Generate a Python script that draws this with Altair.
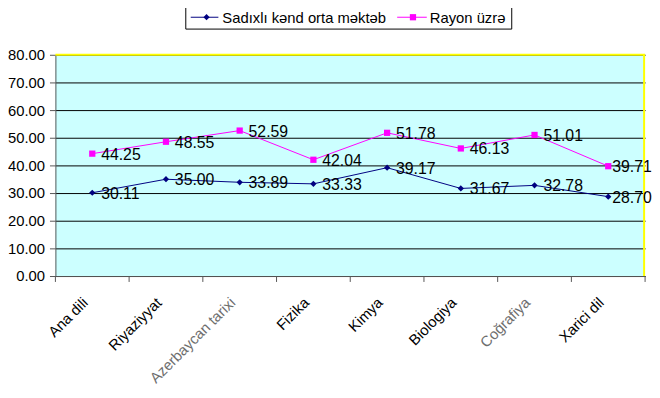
import altair as alt
import pandas as pd

categories = ["Ana dili", "Riyaziyyat", "Azerbaycan tarixi", "Fizika", "Kimya",
              "Biologiya", "Coğrafiya", "Xarici dil"]
school = [30.11, 35.00, 33.89, 33.33, 39.17, 31.67, 32.78, 28.70]
district = [44.25, 48.55, 52.59, 42.04, 51.78, 46.13, 51.01, 39.71]
series_names = ["Sadıxlı kənd orta məktəb", "Rayon üzrə"]
y_ticks = [0, 10, 20, 30, 40, 50, 60, 70, 80]

W, H = 597, 224
NAVY = "#000080"
MAG = "#FF00FF"
FONT = "Liberation Sans"

df = pd.DataFrame({
    "cat": categories * 2,
    "val": school + district,
    "series": [series_names[0]] * len(categories) + [series_names[1]] * len(categories),
})
cat_df = pd.DataFrame({"cat": categories})

xscale = alt.Scale(type="band", domain=categories, paddingInner=0, paddingOuter=0)
yscale = alt.Scale(domain=[0, 80], nice=False, zero=True)

x_enc = alt.X("cat:N", scale=xscale, sort=None, title=None,
              axis=alt.Axis(labelAngle=-45, ticks=False, labelPadding=24, labelOffset=-7,
                            labelFontSize=15, labelFont=FONT, labelAlign="right",
                            labelBaseline="middle",
                            labelColor=alt.ExprRef("datum.value == 'Azerbaycan tarixi' || datum.value == 'Coğrafiya' ? '#6e6e6e' : '#000000'"),
                            domainColor="#555555", domainWidth=1, grid=False, labelLimit=300))
y_enc = alt.Y("val:Q", scale=yscale, title=None,
              axis=alt.Axis(values=y_ticks, format=".2f", labelFontSize=15, labelFont=FONT,
                            labelColor="#000000", tickSize=6, tickColor="#555555",
                            labelPadding=5, domainColor="#555555",
                            grid=True, gridColor="#000000", gridWidth=1, gridOpacity=1))

color_scale = alt.Scale(domain=series_names, range=[NAVY, MAG])

base = alt.Chart(df)

# x-axis ticks between categories
xticks = alt.Chart(cat_df).mark_rule(color="#555555", strokeWidth=1).encode(
    x=alt.X("cat:N", scale=xscale, sort=None, bandPosition=0),
    y=alt.value(H), y2=alt.value(H + 6))
xtick_end = alt.Chart(pd.DataFrame({"a": [0]})).mark_rule(color="#555555").encode(
    x=alt.value(W), y=alt.value(H), y2=alt.value(H + 6))

# yellow borders top & right
border_top = alt.Chart(pd.DataFrame({"a": [0]})).mark_rule(color="#FFFF00", strokeWidth=2).encode(
    x=alt.value(0), x2=alt.value(W), y=alt.value(0))
border_right = alt.Chart(pd.DataFrame({"a": [0]})).mark_rule(color="#FFFF00", strokeWidth=2).encode(
    x=alt.value(W - 1), y=alt.value(0), y2=alt.value(H))

lines = base.mark_line(strokeWidth=1).encode(
    x=x_enc, y=y_enc,
    color=alt.Color("series:N", scale=color_scale, legend=None),
    detail="series:N")

pts_school = alt.Chart(df[df.series == series_names[0]]).mark_point(
    shape="diamond", filled=True, size=40, color=NAVY, opacity=1).encode(x=x_enc, y=y_enc)
pts_district = alt.Chart(df[df.series == series_names[1]]).mark_point(
    shape="square", filled=True, size=40, color=MAG, opacity=1).encode(x=x_enc, y=y_enc)

last_cat = categories[-1]
labels = alt.Chart(df[df.cat != last_cat]).mark_text(
    align="left", baseline="middle", dx=9, dy=1, fontSize=16,
    font=FONT, color="#000000").encode(
    x=x_enc, y=y_enc, text=alt.Text("val:Q", format=".2f"))
labels_last = alt.Chart(df[df.cat == last_cat]).mark_text(
    align="left", baseline="middle", dx=4, dy=1, fontSize=16,
    font=FONT, color="#000000").encode(
    x=x_enc, y=y_enc, text=alt.Text("val:Q", format=".2f"))

# legend box
one = pd.DataFrame({"a": [0]})
leg_box = alt.Chart(one).mark_rect(fill="#FFFFFF", stroke="#000000", strokeWidth=1).encode(
    x=alt.value(132), x2=alt.value(462), y=alt.value(-50), y2=alt.value(-26))
leg_l1 = alt.Chart(one).mark_rule(color=NAVY, strokeWidth=1).encode(
    x=alt.value(137), x2=alt.value(165), y=alt.value(-38))
leg_p1 = alt.Chart(one).mark_point(shape="diamond", filled=True, size=40, color=NAVY, opacity=1).encode(
    x=alt.value(153), y=alt.value(-38))
leg_t1 = alt.Chart(pd.DataFrame({"t": [series_names[0]]})).mark_text(
    align="left", baseline="middle", fontSize=15, font=FONT, color="#000000").encode(
    x=alt.value(169), y=alt.value(-37), text="t:N")
leg_l2 = alt.Chart(one).mark_rule(color=MAG, strokeWidth=1).encode(
    x=alt.value(346), x2=alt.value(376), y=alt.value(-38))
leg_p2 = alt.Chart(one).mark_point(shape="square", filled=True, size=40, color=MAG, opacity=1).encode(
    x=alt.value(362), y=alt.value(-38))
leg_t2 = alt.Chart(pd.DataFrame({"t": [series_names[1]]})).mark_text(
    align="left", baseline="middle", fontSize=15, font=FONT, color="#000000").encode(
    x=alt.value(379), y=alt.value(-37), text="t:N")

chart = alt.layer(
    lines, xticks, xtick_end, border_top, border_right,
    pts_school, pts_district, labels, labels_last,
    leg_box, leg_l1, leg_p1, leg_t1, leg_l2, leg_p2, leg_t2,
).properties(
    width=W, height=H,
    autosize=alt.AutoSizeParams(type="none"),
    padding={"left": 48, "top": 45, "right": 7, "bottom": 110},
    background="#FFFFFF",
).configure_view(fill="#CCFFFF", stroke=None)

chart.save("out.html", embed_options={"renderer": "svg", "actions": False})
